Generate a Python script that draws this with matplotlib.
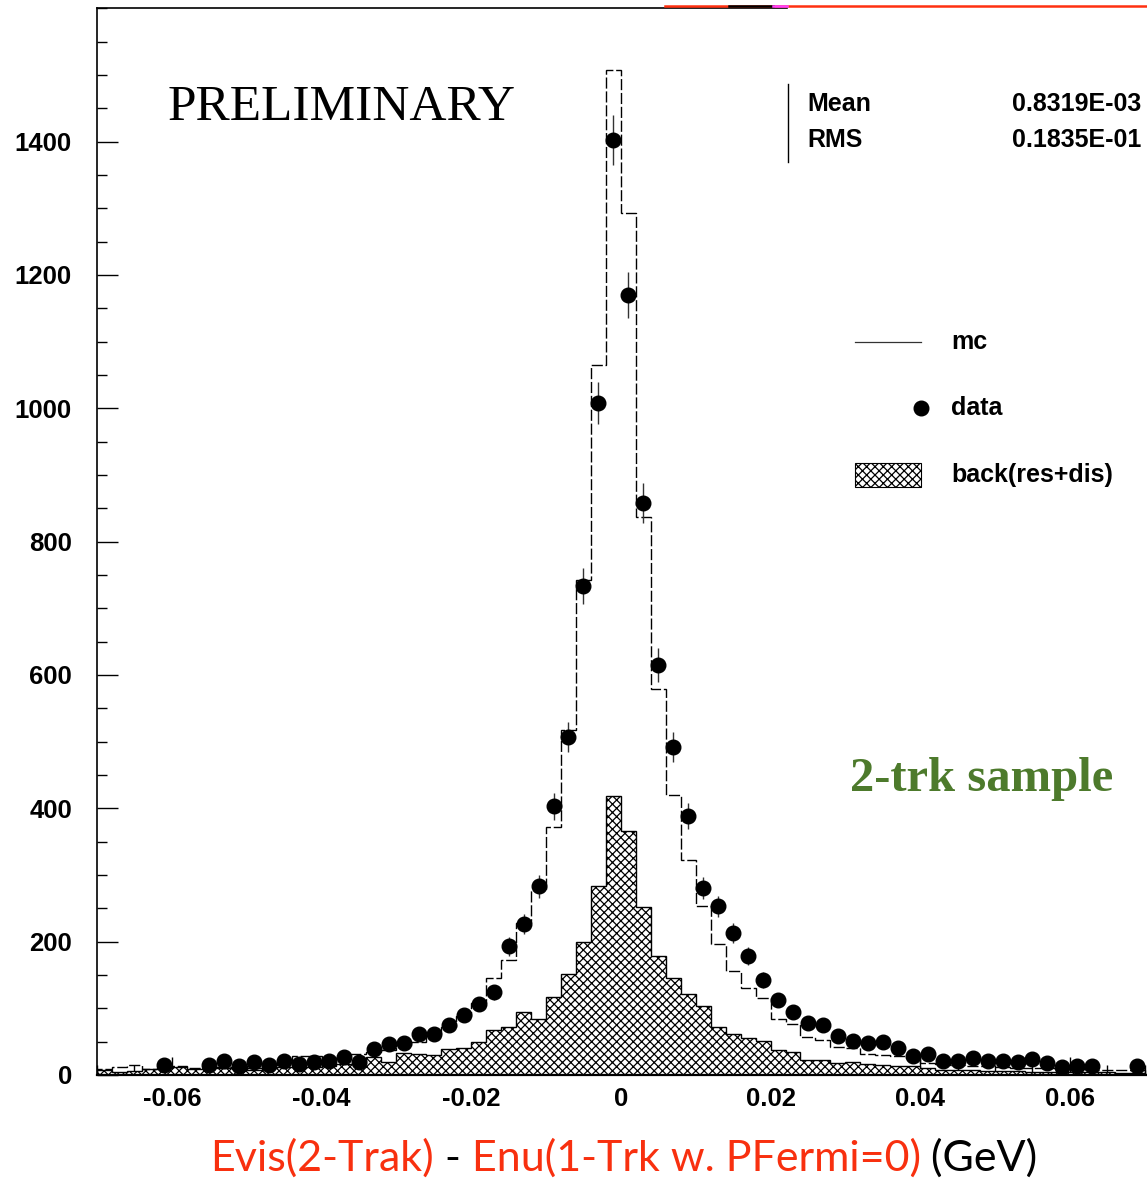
import numpy as np
import matplotlib
matplotlib.use("Agg")
import matplotlib.pyplot as plt
from matplotlib.lines import Line2D
from matplotlib.patches import Rectangle
from matplotlib.ticker import MultipleLocator, FixedLocator, FixedFormatter

# binning: 70 bins of 2 MeV from -0.07 to 0.07 GeV
edges = np.linspace(-0.07, 0.07, 71)
centers = 0.5 * (edges[:-1] + edges[1:])

# mc (dashed histogram)
mc = [9, 12, 15, 9, 10, 13, 10, 12, 12, 12,
      10, 15, 20, 29, 28, 25, 28, 32, 35, 38,
      42, 50, 60, 72, 88, 108, 146, 172, 228, 278,
      372, 517, 742, 1065, 1508, 1293, 837, 579, 420, 322,
      254, 196, 156, 131, 115, 84, 77, 57, 52, 42,
      40, 31, 30, 28, 25, 18, 16, 15, 14, 13,
      12, 11, 10, 10, 9, 9, 8, 8, 7, 7]

# data points (nan = empty bin)
data = [np.nan, np.nan, np.nan, np.nan, 15, np.nan, np.nan, 15, 21, 13,
        19, 15, 21, 16, 19, 21, 27, 19, 39, 46,
        48, 61, 61, 75, 90, 106, 124, 193, 226, 283,
        403, 507, 733, 1008, 1402, 1170, 858, 615, 492, 388,
        280, 253, 213, 178, 142, 112, 94, 78, 75, 58,
        51, 48, 49, 40, 28, 31, 21, 21, 25, 21,
        21, 19, 24, 18, 12, 13, 13, np.nan, np.nan, 13]

# background res+dis (hatched)
back = [7, 4, 6, 9, 10, 12, 9, 10, 10, 9,
        7, 10, 12, 12, 12, 14, 17, 17, 27, 20,
        33, 31, 30, 39, 41, 49, 68, 72, 95, 84,
        117, 151, 200, 284, 419, 366, 252, 178, 146, 122,
        103, 72, 61, 56, 51, 38, 35, 23, 23, 18,
        20, 16, 15, 14, 13, 10, 8, 7, 7, 6,
        6, 6, 5, 5, 5, 4, 4, 4, 3, 3]

xticks = [-0.06, -0.04, -0.02, 0.0, 0.02, 0.04, 0.06]
xticklabels = ["-0.06", "-0.04", "-0.02", "0", "0.02", "0.04", "0.06"]
yticks = [0, 200, 400, 600, 800, 1000, 1200, 1400]

data = np.array(data, dtype=float)
data_err = np.sqrt(data)

plt.rcParams["hatch.linewidth"] = 0.9
bold = dict(family="Liberation Sans", weight="bold")

W, H = 1147, 1185
fig = plt.figure(figsize=(W / 100, H / 100), dpi=100)
ax = fig.add_axes([97 / W, 110 / H, 1050 / W, 1066.7 / H])

# background histogram
ax.stairs(back, edges, fill=True, hatch="xxxx", facecolor="white",
          edgecolor="black", linewidth=1.0, zorder=2)
# mc histogram
ax.stairs(mc, edges, color="black", linewidth=1.0, linestyle=(0, (8, 2)), zorder=3)
# data
ax.errorbar(centers, data, yerr=data_err, fmt="o", color="black", ms=10.5,
            ecolor="#333333", elinewidth=1.0, capsize=0, zorder=4)

ax.set_xlim(-0.07, 0.0703)
ax.set_ylim(0, 1600)

# axis styling (ROOT-like inward ticks)
for s in ["top", "right"]:
    ax.spines[s].set_visible(False)
ax.spines["left"].set_linewidth(1.2)
ax.spines["bottom"].set_linewidth(1.6)
ax.plot([0, (787 - 97) / 1050], [1, 1], transform=ax.transAxes, color="black",
        lw=1.2, clip_on=False)

ax.xaxis.set_major_locator(FixedLocator(xticks))
ax.xaxis.set_major_formatter(FixedFormatter(xticklabels))
ax.xaxis.set_minor_locator(MultipleLocator(0.005))
ax.yaxis.set_major_locator(FixedLocator(yticks))
ax.yaxis.set_minor_locator(MultipleLocator(50))
ax.tick_params(axis="both", which="both", direction="in", top=False, right=False)
ax.tick_params(axis="y", which="major", length=15, width=1.0, pad=18)
ax.tick_params(axis="y", which="minor", length=7, width=1.0)
ax.tick_params(axis="x", which="major", length=13, width=1.0, pad=9)
ax.tick_params(axis="x", which="minor", length=7, width=1.0)
for lab in ax.get_xticklabels() + ax.get_yticklabels():
    lab.set_fontproperties(dict(family="Liberation Sans", weight="bold", size=18.5))

# PRELIMINARY
ax.text(0.0676, 0.9066, "PRELIMINARY", transform=ax.transAxes, ha="left", va="center",
        family="Liberation Serif", fontsize=37)

# stats box
ax.plot([0.658, 0.658], [0.856, 0.929], transform=ax.transAxes, color="black", lw=1.0)
ax.text(0.677, 0.910, "Mean", transform=ax.transAxes, va="center", fontsize=18, **bold)
ax.text(0.677, 0.8766, "RMS", transform=ax.transAxes, va="center", fontsize=18, **bold)
ax.text(0.9943, 0.910, "0.8319E-03", transform=ax.transAxes, va="center", ha="right",
        fontsize=18, **bold)
ax.text(0.9943, 0.8766, "0.1835E-01", transform=ax.transAxes, va="center", ha="right",
        fontsize=18, **bold)

# legend (drawn by hand)
ax.plot([0.7219, 0.7848], [0.6872, 0.6872], transform=ax.transAxes, color="#333333", lw=0.9)
ax.text(0.8133, 0.6872, "mc", transform=ax.transAxes, va="center", fontsize=18, **bold)
ax.plot([0.7848], [0.6253], transform=ax.transAxes, marker="o", color="black", ms=10.5)
ax.text(0.8133, 0.6253, "data", transform=ax.transAxes, va="center", fontsize=18, **bold)
ax.add_patch(Rectangle((0.7219, 0.5512), 0.0629, 0.0226, transform=ax.transAxes,
                       facecolor="white", edgecolor="black", hatch="xxxx", lw=0.8))
ax.text(0.8133, 0.5625, "back(res+dis)", transform=ax.transAxes, va="center",
        fontsize=18, **bold)

# sample label
ax.text(0.9676, 0.2775, "2-trk sample", transform=ax.transAxes, ha="right", va="center",
        family="Liberation Serif", weight="bold", fontsize=35, color="#4d7a2c")

# multi-coloured x label, pieces chained one after another
red = "#f8300f"
pieces = [("Evis(2-Trak)", red), (" - ", "black"),
          ("Enu(1-Trk w. PFermi=0)", red), (" (GeV)", "black")]
last = fig.text(210 / W, (1185 - 1158) / H, pieces[0][0], color=pieces[0][1],
                family="Lato", fontsize=31, ha="left", va="center")
for txt, col in pieces[1:]:
    last = ax.annotate(txt, xy=(1, 0), xycoords=last, ha="left", va="bottom",
                       color=col, family="Lato", fontsize=31, annotation_clip=False)

# coloured strip along the top edge of the slide
fig.add_artist(Line2D([665 / W, 1.0], [1 - 6 / H, 1 - 6 / H], color="#ff3010", lw=1.8))
fig.add_artist(Line2D([729 / W, 773 / W], [1 - 6 / H, 1 - 6 / H], color="black", lw=1.8))
fig.add_artist(Line2D([773 / W, 787 / W], [1 - 6 / H, 1 - 6 / H], color="#ff40ff", lw=1.8))

fig.savefig("out.png", dpi=100)
